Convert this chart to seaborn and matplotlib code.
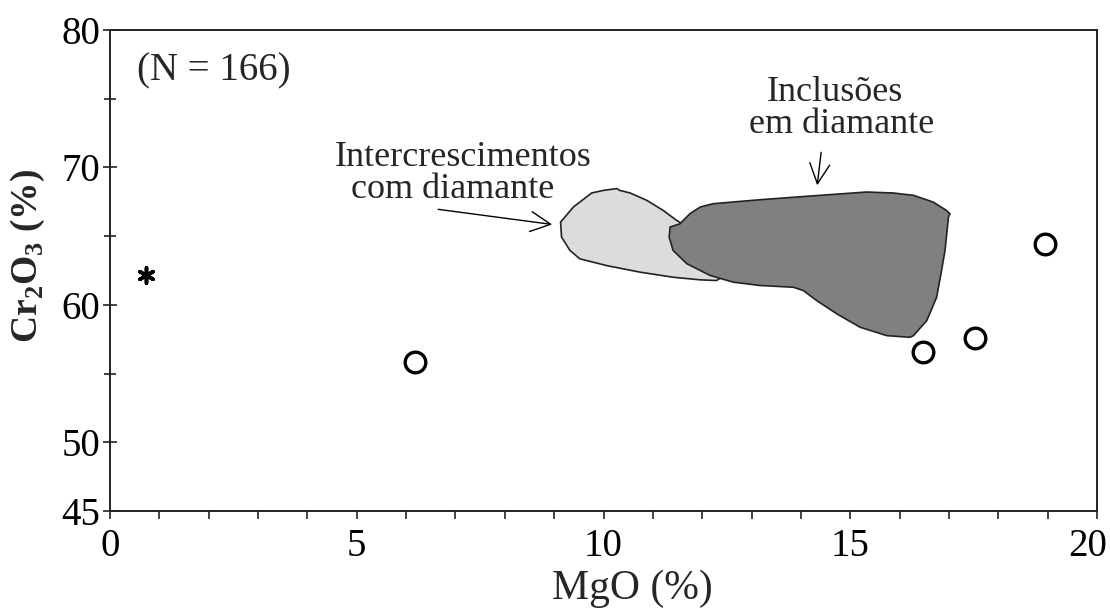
import matplotlib
matplotlib.use("Agg")
import matplotlib.pyplot as plt
import matplotlib.transforms as mtransforms
import seaborn as sns
import pandas as pd
from matplotlib.ticker import MultipleLocator, FixedLocator

# Individual analyses
circle_mgo = [6.18, 16.47, 17.53, 18.95]
circle_cr2o3 = [55.86, 56.60, 57.61, 64.40]
star_mgo = [0.73]
star_cr2o3 = [62.2]

# Field outlines (MgO, Cr2O3)
intergrowth_mgo = [9.13, 9.39, 9.76, 10.00, 10.27, 10.33, 10.54, 10.88, 11.21, 11.48,
                   11.75, 12.36, 12.46, 12.29, 11.96, 11.41, 10.74, 10.06, 9.52, 9.32, 9.15]
intergrowth_cr2o3 = [66.02, 67.12, 68.14, 68.33, 68.46, 68.33, 68.14, 67.60, 66.87, 66.15,
                     65.56, 63.96, 62.14, 61.77, 61.82, 62.01, 62.38, 62.86, 63.35, 63.96, 64.93]

inclusion_mgo = [11.35, 11.55, 11.75, 11.96, 12.22, 13.17, 14.39, 15.33, 15.87, 16.28,
                 16.68, 16.95, 17.02, 16.99, 16.92, 16.85, 16.75, 16.55, 16.28, 16.21,
                 15.74, 15.20, 14.73, 14.32, 14.05, 13.85, 13.17, 12.63, 12.16, 11.69,
                 11.41, 11.33]
inclusion_cr2o3 = [65.66, 65.90, 66.63, 67.12, 67.36, 67.65, 67.97, 68.21, 68.14, 67.97,
                   67.48, 66.87, 66.63, 66.39, 63.96, 62.50, 60.55, 58.85, 57.76, 57.64,
                   57.76, 58.37, 59.34, 60.31, 61.04, 61.28, 61.41, 61.65, 62.14, 62.99,
                   63.96, 64.93]

x_major = [0, 5, 10, 15, 20]
y_major = [45, 50, 60, 70, 80]
y_minor = [55, 65, 75]

sns.set_style("ticks")
plt.rcParams["font.family"] = ["Liberation Serif", "DejaVu Serif"]
plt.rcParams["mathtext.fontset"] = "custom"
plt.rcParams["mathtext.rm"] = "Liberation Serif"
plt.rcParams["mathtext.bf"] = "Liberation Serif:bold"

fig = plt.figure(figsize=(11.1, 6.08), dpi=100)
ax = fig.add_axes([0.0991, 1 - 511 / 608, 0.8892, (511 - 30) / 608])

ax.fill(intergrowth_mgo, intergrowth_cr2o3, facecolor="#dcdcdc",
        edgecolor="#222222", linewidth=1.2, zorder=2)
ax.fill(inclusion_mgo, inclusion_cr2o3, facecolor="#808080",
        edgecolor="#222222", linewidth=1.2, zorder=3)

circles = pd.DataFrame({"MgO": circle_mgo, "Cr2O3": circle_cr2o3})
stars = pd.DataFrame({"MgO": star_mgo, "Cr2O3": star_cr2o3})
sns.scatterplot(data=circles, x="MgO", y="Cr2O3", ax=ax, s=220, marker="o",
                facecolor="white", edgecolor="black", linewidth=2.4, zorder=5)
sns.scatterplot(data=stars, x="MgO", y="Cr2O3", ax=ax, s=120, marker=(6, 2, 0),
                color="black", edgecolor="black", linewidth=2.6, zorder=5)

ax.set_xlim(0, 20)
ax.set_ylim(45, 80)
ax.xaxis.set_major_locator(FixedLocator(x_major))
ax.xaxis.set_minor_locator(MultipleLocator(1))
ax.yaxis.set_major_locator(FixedLocator(y_major))
ax.yaxis.set_minor_locator(FixedLocator(y_minor))
ax.tick_params(axis="x", which="both", direction="out", length=6, width=1.2,
               labelsize=28, pad=6, colors="#222222", labelcolor="black")
ax.tick_params(axis="y", which="major", direction="inout", length=10, width=1.2,
               labelsize=28, pad=2, colors="#222222", labelcolor="black")
ax.tick_params(axis="y", which="minor", direction="inout", length=8, width=1.2,
               colors="#222222")
for sp in ax.spines.values():
    sp.set_visible(True)
    sp.set_linewidth(1.4)
    sp.set_color("#222222")

# keep the last x tick label inside the figure
fig.canvas.draw()
last = ax.get_xticklabels()[-1]
last.set_transform(last.get_transform() +
                   mtransforms.ScaledTranslation(-9 / 100, 0, fig.dpi_scale_trans))

ax.set_xlabel("MgO (%)", fontsize=30, labelpad=0)
ax.xaxis.set_label_coords(0.529, -0.122)
ax.set_ylabel(r"Cr$_\mathbf{2}$O$_\mathbf{3}$ (%)", fontsize=27, fontweight="bold")
ax.yaxis.set_label_coords(-0.064, 0.53)

ax.text(0.027, 0.915, "(N = 166)", transform=ax.transAxes, fontsize=28,
        ha="left", va="center")

# Field labels (baseline positions) and pointers
ax.text(7.15, 70.08, "Intercrescimentos", fontsize=26, ha="center", va="baseline")
ax.text(6.95, 67.75, "com diamante", fontsize=26, ha="center", va="baseline")
ax.text(14.68, 74.82, "Inclusões", fontsize=26, ha="center", va="baseline")
ax.text(14.82, 72.49, "em diamante", fontsize=26, ha="center", va="baseline")

arrow_kw = dict(arrowstyle="->, head_length=0.4, head_width=0.2", color="black",
                lw=1.0, mutation_scale=36, shrinkA=0, shrinkB=0)
ax.annotate("", xy=(8.96, 65.85), xytext=(6.65, 66.95), arrowprops=arrow_kw)
ax.annotate("", xy=(14.33, 68.70), xytext=(14.41, 71.10), arrowprops=arrow_kw)

fig.savefig("out.png", dpi=100)
